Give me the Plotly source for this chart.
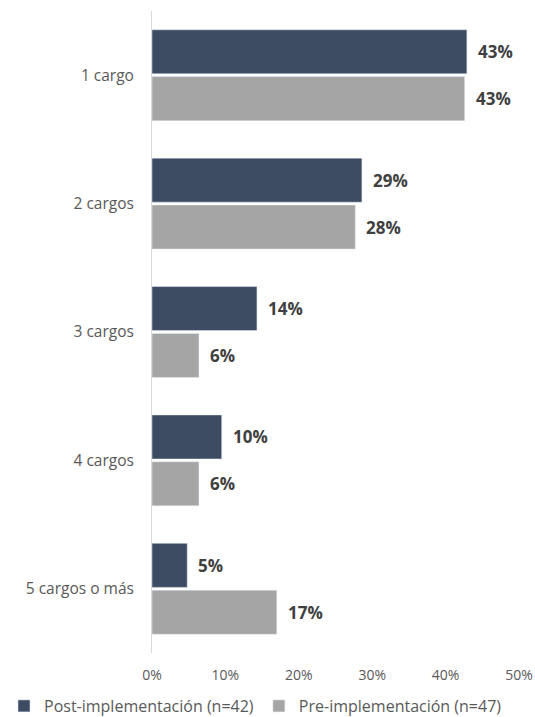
import plotly.graph_objects as go

categories = ["1 cargo", "2 cargos", "3 cargos", "4 cargos", "5 cargos o más"]
post_values = [42.9, 28.6, 14.3, 9.5, 4.8]
pre_values = [42.6, 27.7, 6.4, 6.4, 17.0]
post_name = "Post-implementación (n=42)"
pre_name = "Pre-implementación (n=47)"
tick_vals = [0, 10, 20, 30, 40, 50]
tick_text = ["0%", "10%", "20%", "30%", "40%", "50%"]

POST_COLOR = "#3E4C63"
PRE_COLOR = "#A5A5A5"
FONT = "Open Sans"

W, H = 535, 717
ML, MR, MT, MB = 152, 16, 11, 64
plot_w = W - ML - MR
plot_h = H - MT - MB

fig = go.Figure()
fig.add_trace(go.Bar(y=categories, x=post_values, name=post_name, orientation="h",
                     marker=dict(color=POST_COLOR), hoverinfo="skip"))
fig.add_trace(go.Bar(y=categories, x=pre_values, name=pre_name, orientation="h",
                     marker=dict(color=PRE_COLOR), hoverinfo="skip"))

bar_gap = 0.27
group_gap = 0.06
annotations = []
n_traces = 2
for ti, vals in enumerate([post_values, pre_values]):
    for ci, v in enumerate(vals):
        group_w = 1 - bar_gap
        slot = group_w / n_traces
        off = -group_w / 2 + slot * (ti + 0.5)
        annotations.append(dict(
            x=v, y=ci + off, xref="x", yref="y",
            text=f"<b>{round(v):d}%</b>", showarrow=False,
            xanchor="left", yanchor="middle", xshift=9,
            font=dict(family=FONT, size=17, color="#404040"),
        ))

fig.update_layout(
    width=W, height=H,
    margin=dict(l=ML, r=MR, t=MT, b=MB, autoexpand=False),
    paper_bgcolor="white", plot_bgcolor="white",
    barmode="group", bargap=bar_gap, bargroupgap=group_gap,
    font=dict(family=FONT, color="#595959"),
    showlegend=True,
    legend=dict(orientation="h", x=-(ML - 4) / plot_w, xanchor="left",
                y=-53 / plot_h, yanchor="middle",
                xref="paper", yref="paper",
                font=dict(family=FONT, size=16, color="#595959"),
                itemwidth=30, traceorder="normal"),
    annotations=annotations,
)
fig.update_yaxes(
    type="category", categoryorder="array", categoryarray=categories,
    range=[4.5, -0.5], showgrid=False, showline=True, linecolor="#D9D9D9", linewidth=1,
    ticks="", ticklabelstandoff=14, tickfont=dict(family=FONT, size=15.5, color="#595959"),
    zeroline=False, automargin=False,
)
fig.update_xaxes(
    range=[0, 50], tickvals=tick_vals, ticktext=tick_text, showgrid=False,
    showline=False, zeroline=False, ticks="", ticklabelstandoff=12,
    tickfont=dict(family=FONT, size=14, color="#595959"), automargin=False,
)

fig.write_html("out.html",
               config={"displayModeBar": False, "staticPlot": True},
               post_script="document.body.style.margin='0';document.body.style.overflow='hidden';")
